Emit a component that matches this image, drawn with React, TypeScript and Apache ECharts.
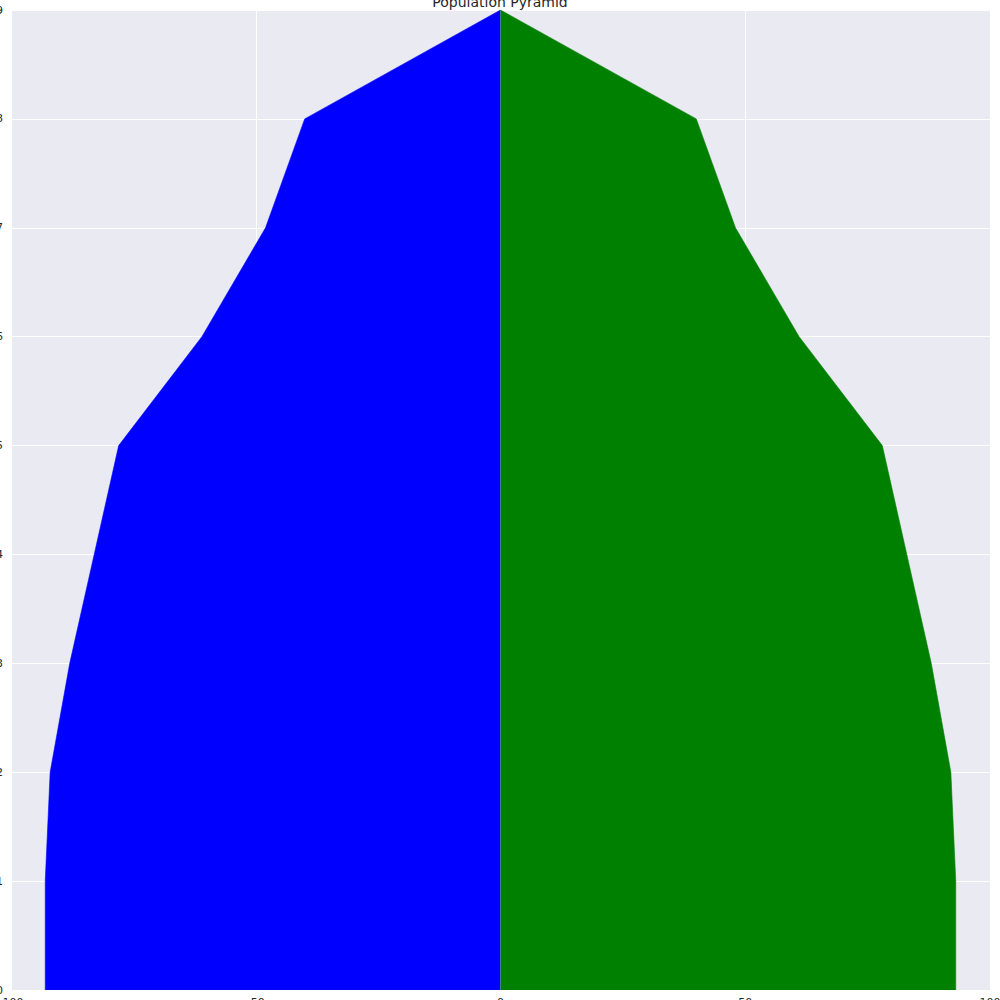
import React, { useEffect, useRef } from 'react';
import * as echarts from 'echarts';

const ageGroups = ['0', '1', '2', '3', '4', '5', '6', '7', '8', '9'];
const leftValues = [93, 93, 92, 88, 83, 78, 61, 48, 40, 0];
const rightValues = [93, 93, 92, 88, 83, 78, 61, 48, 40, 0];
const xTicks = { min: -100, max: 100, interval: 50 };

const App: React.FC = () => {
  const chartRef = useRef<HTMLDivElement>(null);

  useEffect(() => {
    if (!chartRef.current) return undefined;
    const chart = echarts.init(chartRef.current, undefined, { renderer: 'svg' });

    const options = {
      animation: false,
      backgroundColor: '#ffffff',
      title: {
        text: 'Population Pyramid',
        left: 'center',
        top: -10,
        textStyle: { fontSize: 14, fontWeight: 'normal', color: '#262626', fontFamily: 'DejaVu Sans' },
      },
      grid: {
        left: 11,
        right: 10,
        top: 10,
        bottom: 10,
        // echarts 6 pushes the grid inward to fit labels; the reference lets them spill off the page
        outerBoundsMode: 'none',
        containLabel: false,
        show: true,
        backgroundColor: '#EAEAF2',
        borderWidth: 0,
      },
      xAxis: {
        type: 'value',
        min: xTicks.min,
        max: xTicks.max,
        interval: xTicks.interval,
        axisLine: { show: false },
        axisTick: { show: false },
        axisLabel: { margin: 7, fontSize: 11, color: '#262626', fontFamily: 'DejaVu Sans' },
        splitLine: { show: true, lineStyle: { color: '#ffffff', width: 1 } },
      },
      yAxis: {
        type: 'category',
        data: ageGroups,
        boundaryGap: false,
        axisLine: { show: false },
        axisTick: { show: false },
        axisLabel: { margin: 8, fontSize: 11, color: '#262626', fontFamily: 'DejaVu Sans' },
        splitLine: { show: true, lineStyle: { color: '#ffffff', width: 1 } },
      },
      series: [
        {
          type: 'line',
          data: leftValues.map((v) => -v),
          symbol: 'none',
          lineStyle: { color: '#0000FF', width: 0.6 },
          areaStyle: { color: '#0000FF', opacity: 1 },
          z: 3,
        },
        {
          type: 'line',
          data: rightValues,
          symbol: 'none',
          lineStyle: { color: '#008000', width: 0.6 },
          areaStyle: { color: '#008000', opacity: 1 },
          z: 3,
        },
      ],
    };
    chart.setOption(options);

    return () => {
      chart.dispose();
    };
  }, []);

  return (
    <div
      ref={chartRef}
      style={{ position: 'fixed', left: 0, top: 0, width: '1000px', height: '1000px' }}
    />
  );
};

export default App;
